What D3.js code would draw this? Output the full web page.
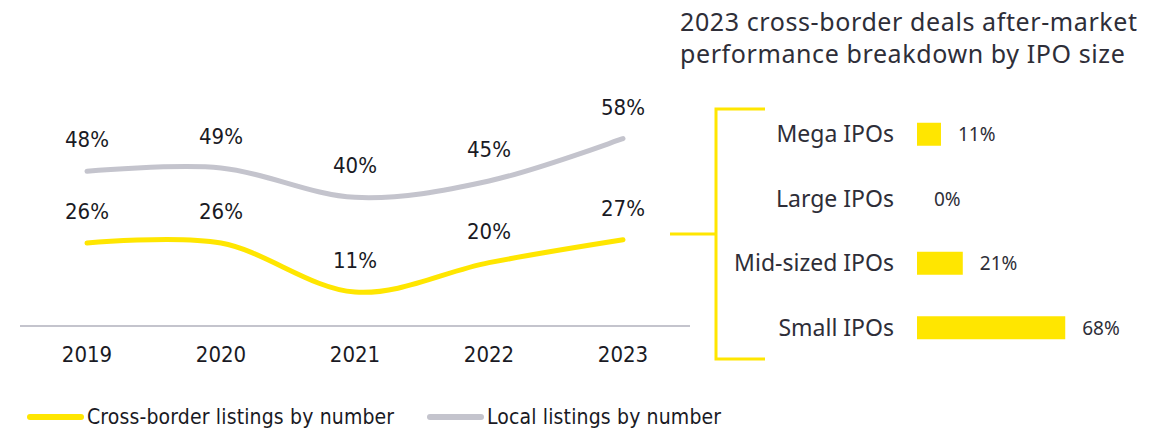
<!DOCTYPE html>
<html>
<head>
<meta charset="utf-8">
<script src="https://cdn.jsdelivr.net/npm/d3@7"></script>
<style>
  body { margin: 0; background: #fff; }
  .cond { font-family: "DejaVu Sans"; font-stretch: condensed; }
</style>
</head>
<body>
<div id="chart"></div>
<script>
var years = ["2019", "2020", "2021", "2022", "2023"];
var crossBorder = [26, 26, 11, 20, 27];
var local = [48, 49, 40, 45, 58];

var sizeCategories = ["Mega IPOs", "Large IPOs", "Mid-sized IPOs", "Small IPOs"];
var sizeShares = [11, 0, 21, 68];

var titleLines = ["2023 cross-border deals after-market", "performance breakdown by IPO size"];
var legendLabels = ["Cross-border listings by number", "Local listings by number"];

var yellow = "#ffe600",
    grey = "#c4c4cd",
    dark = "#2e2e38";

var width = 1168, height = 429;

var svg = d3.select("#chart")
    .append("svg")
    .attr("width", width)
    .attr("height", height);

// left line chart
var x = d3.scalePoint()
    .domain(years)
    .range([20, 690])
    .padding(0.5);

var y = d3.scaleLinear()
    .domain([0, 60])
    .range([328, 132]);

svg.append("line")
    .attr("x1", 20).attr("x2", 690)
    .attr("y1", 326).attr("y2", 326)
    .attr("stroke", grey)
    .attr("stroke-width", 2);

svg.append("g")
    .selectAll("text")
    .data(years)
    .enter()
    .append("text")
    .attr("class", "cond")
    .attr("x", function(d) { return x(d); })
    .attr("y", 362)
    .attr("text-anchor", "middle")
    .style("font-size", "22px")
    .style("fill", "#1a1a24")
    .text(function(d) { return d; });

var line = d3.line()
    .x(function(d, i) { return x(years[i]); })
    .y(function(d) { return y(d); })
    .curve(d3.curveCardinal);

[[local, grey], [crossBorder, yellow]].forEach(function(s) {
    svg.append("path")
        .datum(s[0])
        .attr("d", line)
        .attr("fill", "none")
        .attr("stroke", s[1])
        .attr("stroke-width", 5)
        .attr("stroke-linecap", "round");

    svg.append("g")
        .selectAll("text")
        .data(s[0])
        .enter()
        .append("text")
        .attr("class", "cond")
        .attr("x", function(d, i) { return x(years[i]); })
        .attr("y", function(d) { return y(d) - 24; })
        .attr("text-anchor", "middle")
        .style("font-size", "22px")
        .style("fill", "#1a1a24")
        .text(function(d) { return d + "%"; });
});

// bracket joining 2023 to the breakdown
var bracket = svg.append("g")
    .attr("stroke", yellow)
    .attr("stroke-width", 3)
    .attr("fill", "none");
bracket.append("path").attr("d", "M765,109 H716 V359 H765");
bracket.append("path").attr("d", "M670,234 H716");

// right panel: title
svg.append("text")
    .attr("x", 680)
    .attr("y", 31)
    .style("font-family", "Noto Sans")
    .style("font-size", "25px")
    .style("letter-spacing", "0.6px")
    .style("fill", dark)
    .selectAll("tspan")
    .data(titleLines)
    .enter()
    .append("tspan")
    .attr("x", 680)
    .attr("dy", function(d, i) { return i == 0 ? 0 : 32; })
    .text(function(d) { return d; });

var row = d3.scalePoint()
    .domain(sizeCategories)
    .range([102, 360])
    .padding(0.5);

var bx = d3.scaleLinear()
    .domain([0, 100])
    .range([917, 1135]);

var barH = 23;

var rows = svg.append("g")
    .selectAll("g")
    .data(sizeCategories)
    .enter()
    .append("g");

rows.append("text")
    .attr("x", 894)
    .attr("y", function(d) { return row(d) + 8; })
    .attr("text-anchor", "end")
    .style("font-family", "Noto Sans")
    .style("font-size", "23px")
    .style("fill", dark)
    .text(function(d) { return d; });

rows.append("rect")
    .attr("x", bx(0))
    .attr("y", function(d) { return row(d) - barH / 2; })
    .attr("width", function(d, i) { return bx(sizeShares[i]) - bx(0); })
    .attr("height", barH)
    .attr("fill", yellow);

rows.append("text")
    .attr("x", function(d, i) { return bx(sizeShares[i]) + 17; })
    .attr("y", function(d) { return row(d) + 7; })
    .style("font-family", "Noto Sans")
    .style("font-size", "19px")
    .style("fill", dark)
    .text(function(d, i) { return sizeShares[i] + "%"; });

// legend
var legend = svg.append("g")
    .selectAll("g")
    .data(legendLabels)
    .enter()
    .append("g")
    .attr("transform", function(d, i) { return "translate(" + (i == 0 ? 30 : 430) + ",417)"; });

legend.append("line")
    .attr("x1", 0).attr("x2", 51)
    .attr("stroke", function(d, i) { return i == 0 ? yellow : grey; })
    .attr("stroke-width", 6)
    .attr("stroke-linecap", "round");

legend.append("text")
    .attr("class", "cond")
    .attr("x", 57)
    .attr("y", 7)
    .style("font-size", "21px")
    .style("letter-spacing", "0.15px")
    .style("fill", "#1a1a24")
    .text(function(d) { return d; });
</script>
</body>
</html>
